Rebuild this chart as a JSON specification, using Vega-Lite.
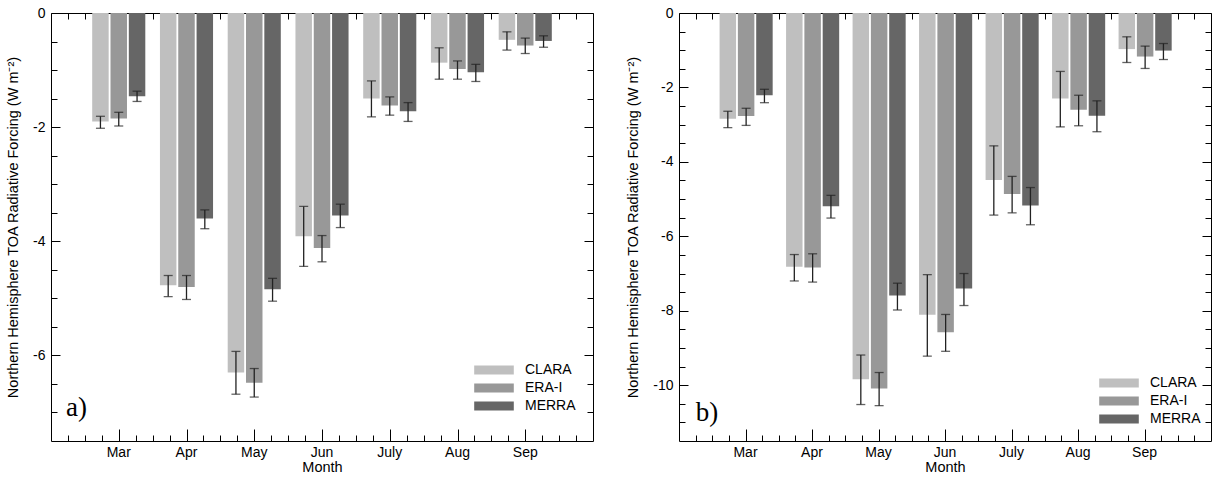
{
  "$schema": "https://vega.github.io/schema/vega-lite/v6.json",
  "padding": 5,
  "spacing": 31,
  "config": {
    "font": "Liberation Sans",
    "view": {"stroke": "#000", "strokeWidth": 1},
    "axis": {"labelFontSize": 14, "titleFontSize": 14.5, "labelColor": "#000", "titleColor": "#000", "titleFontWeight": "normal", "domain": false, "ticks": false, "gridColor": "#000", "gridOpacity": 1, "gridWidth": 1, "labelOverlap": false},
    "legend": {"labelFontSize": 14, "labelColor": "#000"}
  },
  "datasets": {
    "d": [
      {"panel": "a", "month": "Mar", "product": "CLARA", "value": -1.90, "lo": -1.81, "hi": -2.02},
      {"panel": "a", "month": "Mar", "product": "ERA-I", "value": -1.85, "lo": -1.74, "hi": -1.98},
      {"panel": "a", "month": "Mar", "product": "MERRA", "value": -1.46, "lo": -1.37, "hi": -1.55},
      {"panel": "a", "month": "Apr", "product": "CLARA", "value": -4.77, "lo": -4.60, "hi": -4.97},
      {"panel": "a", "month": "Apr", "product": "ERA-I", "value": -4.80, "lo": -4.60, "hi": -5.02},
      {"panel": "a", "month": "Apr", "product": "MERRA", "value": -3.60, "lo": -3.45, "hi": -3.78},
      {"panel": "a", "month": "May", "product": "CLARA", "value": -6.30, "lo": -5.93, "hi": -6.68},
      {"panel": "a", "month": "May", "product": "ERA-I", "value": -6.48, "lo": -6.23, "hi": -6.73},
      {"panel": "a", "month": "May", "product": "MERRA", "value": -4.84, "lo": -4.65, "hi": -5.05},
      {"panel": "a", "month": "Jun", "product": "CLARA", "value": -3.91, "lo": -3.39, "hi": -4.44},
      {"panel": "a", "month": "Jun", "product": "ERA-I", "value": -4.12, "lo": -3.90, "hi": -4.36},
      {"panel": "a", "month": "Jun", "product": "MERRA", "value": -3.55, "lo": -3.35, "hi": -3.76},
      {"panel": "a", "month": "July", "product": "CLARA", "value": -1.50, "lo": -1.19, "hi": -1.82},
      {"panel": "a", "month": "July", "product": "ERA-I", "value": -1.62, "lo": -1.47, "hi": -1.79},
      {"panel": "a", "month": "July", "product": "MERRA", "value": -1.72, "lo": -1.57, "hi": -1.90},
      {"panel": "a", "month": "Aug", "product": "CLARA", "value": -0.87, "lo": -0.61, "hi": -1.16},
      {"panel": "a", "month": "Aug", "product": "ERA-I", "value": -0.98, "lo": -0.84, "hi": -1.16},
      {"panel": "a", "month": "Aug", "product": "MERRA", "value": -1.04, "lo": -0.90, "hi": -1.20},
      {"panel": "a", "month": "Sep", "product": "CLARA", "value": -0.47, "lo": -0.33, "hi": -0.65},
      {"panel": "a", "month": "Sep", "product": "ERA-I", "value": -0.57, "lo": -0.44, "hi": -0.71},
      {"panel": "a", "month": "Sep", "product": "MERRA", "value": -0.49, "lo": -0.40, "hi": -0.60},
      {"panel": "b", "month": "Mar", "product": "CLARA", "value": -2.84, "lo": -2.64, "hi": -3.08},
      {"panel": "b", "month": "Mar", "product": "ERA-I", "value": -2.77, "lo": -2.56, "hi": -3.02},
      {"panel": "b", "month": "Mar", "product": "MERRA", "value": -2.21, "lo": -2.05, "hi": -2.41},
      {"panel": "b", "month": "Apr", "product": "CLARA", "value": -6.82, "lo": -6.49, "hi": -7.20},
      {"panel": "b", "month": "Apr", "product": "ERA-I", "value": -6.84, "lo": -6.47, "hi": -7.23},
      {"panel": "b", "month": "Apr", "product": "MERRA", "value": -5.19, "lo": -4.90, "hi": -5.51},
      {"panel": "b", "month": "May", "product": "CLARA", "value": -9.84, "lo": -9.19, "hi": -10.52},
      {"panel": "b", "month": "May", "product": "ERA-I", "value": -10.09, "lo": -9.66, "hi": -10.55},
      {"panel": "b", "month": "May", "product": "MERRA", "value": -7.59, "lo": -7.26, "hi": -7.98},
      {"panel": "b", "month": "Jun", "product": "CLARA", "value": -8.11, "lo": -7.03, "hi": -9.22},
      {"panel": "b", "month": "Jun", "product": "ERA-I", "value": -8.58, "lo": -8.10, "hi": -9.09},
      {"panel": "b", "month": "Jun", "product": "MERRA", "value": -7.40, "lo": -7.00, "hi": -7.86},
      {"panel": "b", "month": "July", "product": "CLARA", "value": -4.49, "lo": -3.57, "hi": -5.43},
      {"panel": "b", "month": "July", "product": "ERA-I", "value": -4.86, "lo": -4.39, "hi": -5.37},
      {"panel": "b", "month": "July", "product": "MERRA", "value": -5.17, "lo": -4.69, "hi": -5.69},
      {"panel": "b", "month": "Aug", "product": "CLARA", "value": -2.30, "lo": -1.57, "hi": -3.06},
      {"panel": "b", "month": "Aug", "product": "ERA-I", "value": -2.60, "lo": -2.21, "hi": -3.03},
      {"panel": "b", "month": "Aug", "product": "MERRA", "value": -2.76, "lo": -2.36, "hi": -3.19},
      {"panel": "b", "month": "Sep", "product": "CLARA", "value": -0.97, "lo": -0.64, "hi": -1.33},
      {"panel": "b", "month": "Sep", "product": "ERA-I", "value": -1.17, "lo": -0.89, "hi": -1.49},
      {"panel": "b", "month": "Sep", "product": "MERRA", "value": -1.01, "lo": -0.82, "hi": -1.25}
    ],
    "months": [{"mnum": 3}, {"mnum": 4}, {"mnum": 5}, {"mnum": 6}, {"mnum": 7}, {"mnum": 8}, {"mnum": 9}]
  },
  "resolve": {"scale": {"color": "independent", "y": "independent"}, "axis": {"y": "independent"}},
  "hconcat": [
    {
      "width": 542,
      "height": 428,
      "layer": [
        {
          "data": {"name": "d"},
          "transform": [{"filter": "datum.panel === 'a'"}],
          "encoding": {
            "x": {"field": "month", "type": "nominal", "sort": ["Mar", "Apr", "May", "Jun", "July", "Aug", "Sep"], "scale": {"paddingInner": 0, "paddingOuter": 0.5}, "axis": {"title": "Month", "labelAngle": 0, "labelPadding": 4, "titlePadding": 1, "grid": false}},
            "xOffset": {"field": "product", "type": "nominal", "sort": ["CLARA", "ERA-I", "MERRA"], "scale": {"paddingInner": 0.1, "paddingOuter": 0.4}}
          },
          "layer": [
            {
              "mark": {"type": "bar"},
              "encoding": {
                "y": {"field": "value", "type": "quantitative", "scale": {"domain": [-7.5, 0], "nice": false},
                  "axis": {"title": "Northern Hemisphere TOA Radiative Forcing (W m⁻²)",
                    "values": [0, -2, -4, -6],
                    "labelExpr": "datum.value === 0 ? '0' : '-' + format(-datum.value, 'd')",
                    "labelPadding": 6, "titlePadding": 12, "grid": true, "gridDash": [9, 524, 9]}},
                "color": {"field": "product", "type": "nominal", "sort": ["CLARA", "ERA-I", "MERRA"],
                  "scale": {"domain": ["CLARA", "ERA-I", "MERRA"], "range": ["#bfbfbf", "#989898", "#666666"]},
                  "legend": {"orient": "none", "legendX": 434, "legendY": 348, "title": null, "symbolType": "M-2.2,-0.5H2.2V0.5H-2.2Z", "symbolSize": 324, "symbolStrokeWidth": 0, "labelOffset": 22, "rowPadding": 2}}
              }
            },
            {
              "mark": {"type": "rule", "color": "#222", "strokeWidth": 1.3},
              "encoding": {"y": {"field": "lo", "type": "quantitative"}, "y2": {"field": "hi"}}
            },
            {
              "mark": {"type": "tick", "orient": "horizontal", "size": 9, "thickness": 1.3, "color": "#222"},
              "encoding": {"y": {"field": "lo", "type": "quantitative"}}
            },
            {
              "mark": {"type": "tick", "orient": "horizontal", "size": 9, "thickness": 1.3, "color": "#222"},
              "encoding": {"y": {"field": "hi", "type": "quantitative"}}
            }
          ]
        },
        {
          "encoding": {
            "x": {"type": "quantitative", "scale": {"domain": [2, 10], "nice": false, "zero": false},
              "axis": {"orient": "top", "title": null, "labels": false, "grid": true,
                "values": [2.25, 2.5, 2.75, 3, 3.25, 3.5, 3.75, 4, 4.25, 4.5, 4.75, 5, 5.25, 5.5, 5.75, 6, 6.25, 6.5, 6.75, 7, 7.25, 7.5, 7.75, 8, 8.25, 8.5, 8.75, 9, 9.25, 9.5, 9.75],
                "gridDash": {"condition": {"test": "datum.value % 1 === 0", "value": [12, 404, 12]}, "value": [6, 416, 6]}}},
            "y": {"type": "quantitative", "scale": {"domain": [-7.5, 0], "nice": false},
              "axis": {"orient": "right", "title": null, "labels": false, "grid": true,
                "values": [-0.5, -1, -1.5, -2.5, -3, -3.5, -4.5, -5, -5.5, -6.5, -7],
                "gridDash": [6, 530, 6]}}
          },
          "layer": [
            {
              "data": {"name": "months"},
              "mark": {"type": "point", "opacity": 0},
              "encoding": {"x": {"field": "mnum", "type": "quantitative"}, "y": {"datum": -1}}
            },
            {
              "data": {"values": [{"lab": "a)"}]},
              "mark": {"type": "text", "font": "Liberation Serif", "fontSize": 27, "align": "left", "baseline": "middle"},
              "encoding": {
                "x": {"datum": 2.22},
                "y": {"datum": -6.92},
                "text": {"field": "lab"}
              }
            }
          ]
        }
      ],
      "resolve": {"scale": {"x": "independent", "y": "independent"}, "axis": {"x": "independent", "y": "independent"}}
    },
    {
      "width": 532,
      "height": 428,
      "layer": [
        {
          "data": {"name": "d"},
          "transform": [{"filter": "datum.panel === 'b'"}],
          "encoding": {
            "x": {"field": "month", "type": "nominal", "sort": ["Mar", "Apr", "May", "Jun", "July", "Aug", "Sep"], "scale": {"paddingInner": 0, "paddingOuter": 0.5}, "axis": {"title": "Month", "labelAngle": 0, "labelPadding": 4, "titlePadding": 1, "grid": false}},
            "xOffset": {"field": "product", "type": "nominal", "sort": ["CLARA", "ERA-I", "MERRA"], "scale": {"paddingInner": 0.1, "paddingOuter": 0.4}}
          },
          "layer": [
            {
              "mark": {"type": "bar"},
              "encoding": {
                "y": {"field": "value", "type": "quantitative", "scale": {"domain": [-11.5, 0], "nice": false},
                  "axis": {"title": "Northern Hemisphere TOA Radiative Forcing (W m⁻²)",
                    "values": [0, -2, -4, -6, -8, -10],
                    "labelExpr": "datum.value === 0 ? '0' : '-' + format(-datum.value, 'd')",
                    "labelPadding": 6, "titlePadding": 12, "grid": true, "gridDash": [9, 514, 9]}},
                "color": {"field": "product", "type": "nominal", "sort": ["CLARA", "ERA-I", "MERRA"],
                  "scale": {"domain": ["CLARA", "ERA-I", "MERRA"], "range": ["#bfbfbf", "#989898", "#666666"]},
                  "legend": {"orient": "none", "legendX": 431, "legendY": 361, "title": null, "symbolType": "M-2.2,-0.5H2.2V0.5H-2.2Z", "symbolSize": 324, "symbolStrokeWidth": 0, "labelOffset": 22, "rowPadding": 2}}
              }
            },
            {
              "mark": {"type": "rule", "color": "#222", "strokeWidth": 1.3},
              "encoding": {"y": {"field": "lo", "type": "quantitative"}, "y2": {"field": "hi"}}
            },
            {
              "mark": {"type": "tick", "orient": "horizontal", "size": 9, "thickness": 1.3, "color": "#222"},
              "encoding": {"y": {"field": "lo", "type": "quantitative"}}
            },
            {
              "mark": {"type": "tick", "orient": "horizontal", "size": 9, "thickness": 1.3, "color": "#222"},
              "encoding": {"y": {"field": "hi", "type": "quantitative"}}
            }
          ]
        },
        {
          "encoding": {
            "x": {"type": "quantitative", "scale": {"domain": [2, 10], "nice": false, "zero": false},
              "axis": {"orient": "top", "title": null, "labels": false, "grid": true,
                "values": [2.25, 2.5, 2.75, 3, 3.25, 3.5, 3.75, 4, 4.25, 4.5, 4.75, 5, 5.25, 5.5, 5.75, 6, 6.25, 6.5, 6.75, 7, 7.25, 7.5, 7.75, 8, 8.25, 8.5, 8.75, 9, 9.25, 9.5, 9.75],
                "gridDash": {"condition": {"test": "datum.value % 1 === 0", "value": [12, 404, 12]}, "value": [6, 416, 6]}}},
            "y": {"type": "quantitative", "scale": {"domain": [-11.5, 0], "nice": false},
              "axis": {"orient": "right", "title": null, "labels": false, "grid": true,
                "values": [-0.5, -1, -1.5, -2.5, -3, -3.5, -4.5, -5, -5.5, -6.5, -7, -7.5, -8.5, -9, -9.5, -10.5, -11],
                "gridDash": [6, 520, 6]}}
          },
          "layer": [
            {
              "data": {"name": "months"},
              "mark": {"type": "point", "opacity": 0},
              "encoding": {"x": {"field": "mnum", "type": "quantitative"}, "y": {"datum": -1}}
            },
            {
              "data": {"values": [{"lab": "b)"}]},
              "mark": {"type": "text", "font": "Liberation Serif", "fontSize": 27, "align": "left", "baseline": "middle"},
              "encoding": {
                "x": {"datum": 2.25},
                "y": {"datum": -10.75},
                "text": {"field": "lab"}
              }
            }
          ]
        }
      ],
      "resolve": {"scale": {"x": "independent", "y": "independent"}, "axis": {"x": "independent", "y": "independent"}}
    }
  ]
}
